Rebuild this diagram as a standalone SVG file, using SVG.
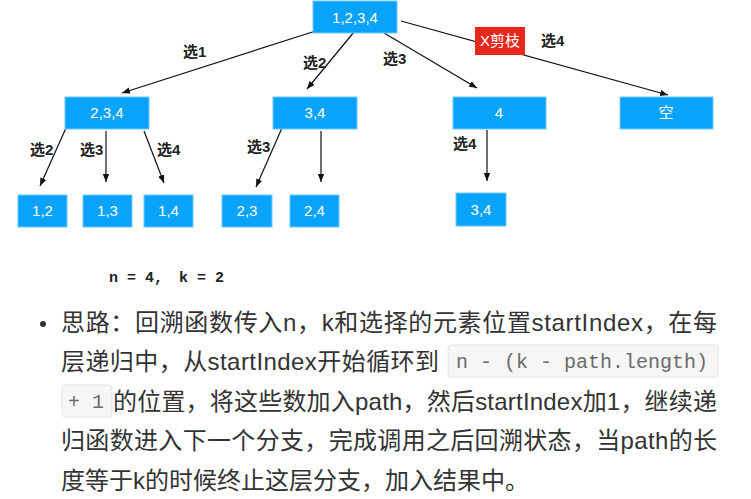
<svg xmlns="http://www.w3.org/2000/svg" width="751" height="499" viewBox="0 0 751 499">
  <style>
    .node rect { fill: #0aa3fb; stroke: #6cc8ff; stroke-width: 1; }
    .node text { font-family: "Liberation Sans", "Noto Sans CJK SC", sans-serif; font-size: 15px; fill: #ffffff; text-anchor: middle; }
    .edge { stroke: #111111; stroke-width: 1.2; fill: none; marker-end: url(#arrow); }
    .lbl { font-family: "Liberation Sans", "Noto Sans CJK SC", sans-serif; font-size: 15px; font-weight: bold; fill: #222222; }
    .body { font-family: "Liberation Sans", "Noto Sans CJK SC", sans-serif; font-size: 24px; fill: #333333; }
    .code { font-family: "Liberation Mono", "Noto Sans CJK SC", monospace; font-size: 20px; fill: #6a6a6a; }
    .codebox { fill: #f6f6f6; stroke: #e6e6e6; stroke-width: 1; }
  </style>
  <defs>
    <marker id="arrow" markerWidth="8" markerHeight="7" refX="8" refY="3.2" orient="auto" markerUnits="userSpaceOnUse">
      <path d="M0,0 L8,3.2 L0,6.4 z" fill="#111111"/>
    </marker>
  </defs>

  <rect width="751" height="499" fill="#ffffff"/>

  <!-- connectors -->
  <g id="connectors">
    <line class="edge" x1="325" y1="28" x2="122" y2="93"/>
    <line class="edge" x1="354" y1="32" x2="307" y2="89"/>
    <line class="edge" x1="384" y1="33" x2="477" y2="88"/>
    <line class="edge" x1="401" y1="21" x2="668" y2="95"/>
    <line class="edge" x1="66" y1="128" x2="40" y2="186"/>
    <line class="edge" x1="106" y1="131" x2="106" y2="182"/>
    <line class="edge" x1="144" y1="131" x2="164" y2="183"/>
    <line class="edge" x1="282" y1="128" x2="256" y2="187"/>
    <line class="edge" x1="321" y1="131" x2="321" y2="182"/>
    <line class="edge" x1="487" y1="130" x2="487" y2="181"/>
  </g>

  <!-- edge labels -->
  <g id="edge-labels">
    <text class="lbl" x="183" y="57">选1</text>
    <text class="lbl" x="303" y="68">选2</text>
    <text class="lbl" x="383" y="64">选3</text>
    <text class="lbl" x="541" y="46">选4</text>
    <text class="lbl" x="30" y="155">选2</text>
    <text class="lbl" x="80" y="155">选3</text>
    <text class="lbl" x="157" y="155">选4</text>
    <text class="lbl" x="247" y="152">选3</text>
    <text class="lbl" x="453" y="149">选4</text>
  </g>

  <!-- pruned branch tag -->
  <g id="prune-tag">
    <rect x="475" y="27" width="50" height="28" fill="#e8281c"/>
    <text x="500" y="46" font-family="Liberation Sans, Noto Sans CJK SC, sans-serif" font-size="15" fill="#ffffff" text-anchor="middle">X剪枝</text>
  </g>

  <!-- tree nodes -->
  <g id="root" class="node"><rect x="313" y="1" width="84" height="32"/><text x="355" y="23">1,2,3,4</text></g>
  <g id="n234" class="node"><rect x="65" y="97" width="84" height="32"/><text x="107" y="118">2,3,4</text></g>
  <g id="n34" class="node"><rect x="273" y="97" width="84" height="32"/><text x="315" y="118">3,4</text></g>
  <g id="n4" class="node"><rect x="453" y="97" width="93" height="32"/><text x="499" y="118">4</text></g>
  <g id="nEmpty" class="node"><rect x="620" y="97" width="93" height="32"/><text x="666" y="118">空</text></g>
  <g id="leaf12" class="node"><rect x="18" y="195" width="49" height="32"/><text x="42.5" y="216">1,2</text></g>
  <g id="leaf13" class="node"><rect x="83" y="195" width="49" height="32"/><text x="107.5" y="216">1,3</text></g>
  <g id="leaf14" class="node"><rect x="144" y="195" width="49" height="32"/><text x="168.5" y="216">1,4</text></g>
  <g id="leaf23" class="node"><rect x="222" y="195" width="50" height="32"/><text x="247" y="216">2,3</text></g>
  <g id="leaf24" class="node"><rect x="290" y="195" width="49" height="32"/><text x="314.5" y="216">2,4</text></g>
  <g id="leaf34" class="node"><rect x="456" y="193" width="50" height="33"/><text x="481" y="215">3,4</text></g>

  <!-- caption under the tree -->
  <text x="109" y="282" font-family="Liberation Mono, monospace" font-size="15" font-weight="bold" fill="#222222">n = 4,<tspan x="179">k = 2</tspan></text>

  <!-- explanation paragraph -->
  <g id="notes">
    <circle cx="43" cy="324" r="3" fill="#333333"/>
    <text class="body" x="61" y="331" textLength="656" lengthAdjust="spacing">思路：回溯函数传入n，k和选择的元素位置startIndex，在每</text>
    <text class="body" x="61" y="370" textLength="378" lengthAdjust="spacing">层递归中，从startIndex开始循环到</text>
    <rect class="codebox" x="448" y="345" width="270" height="32" rx="3"/>
    <text class="code" x="456" y="368">n - (k - path.length)</text>
    <rect class="codebox" x="62" y="385" width="50" height="32" rx="3"/>
    <text class="code" x="68" y="408">+ 1</text>
    <text class="body" x="113" y="410" textLength="604" lengthAdjust="spacing">的位置，将这些数加入path，然后startIndex加1，继续递</text>
    <text class="body" x="61" y="449" textLength="656" lengthAdjust="spacing">归函数进入下一个分支，完成调用之后回溯状态，当path的长</text>
    <text class="body" x="61" y="489">度等于k的时候终止这层分支，加入结果中。</text>
  </g>
</svg>
